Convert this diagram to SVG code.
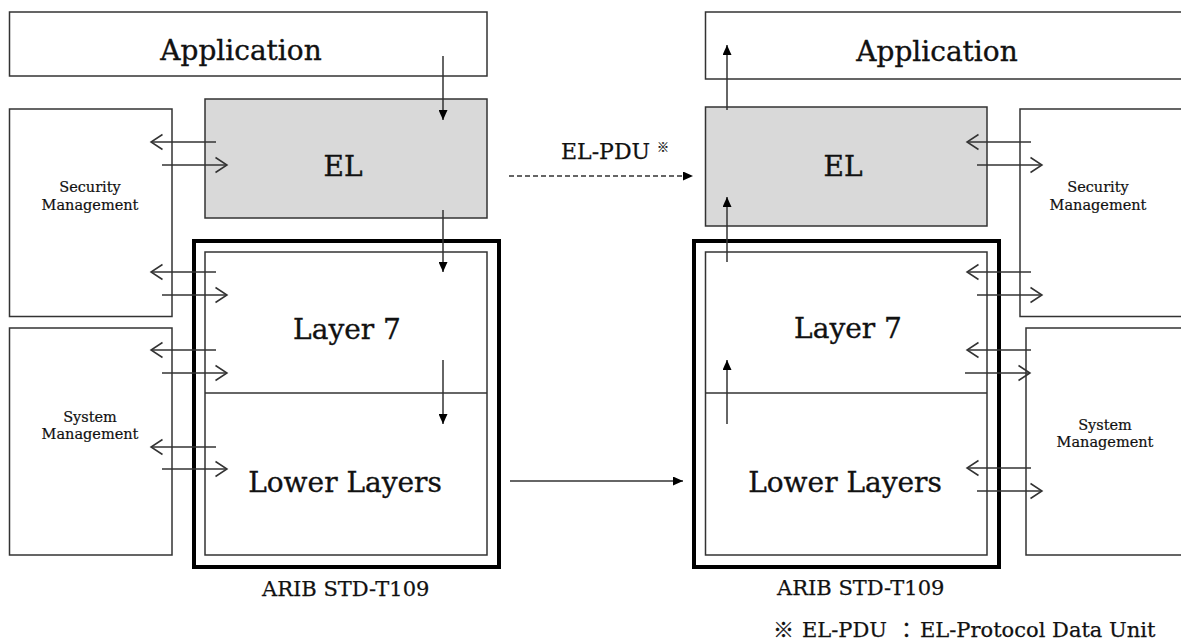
<svg xmlns="http://www.w3.org/2000/svg" width="1181" height="643" viewBox="0 0 1181 643">
  <style>
    .box { fill: #ffffff; stroke: #333333; stroke-width: 1.5; }
    .el { fill: #d9d9d9; stroke: #333333; stroke-width: 1.5; }
    .frame { fill: none; stroke: #000000; stroke-width: 4; }
    .div { stroke: #333333; stroke-width: 1.5; }
    .big { font-family: "DejaVu Serif", "Liberation Serif", serif; font-size: 28px; fill: #111111; stroke: #111111; stroke-width: 0.35; text-anchor: middle; }
    .small { font-family: "DejaVu Serif", "Liberation Serif", serif; font-size: 14.5px; fill: #111111; stroke: #111111; stroke-width: 0.2; text-anchor: middle; }
    .label { font-family: "DejaVu Serif", "Liberation Serif", "Noto Sans CJK JP", serif; fill: #111111; stroke: #111111; stroke-width: 0.25; }
    .flow { stroke: #333333; stroke-width: 1.5; fill: none; marker-end: url(#solid); }
    .io { stroke: #333333; stroke-width: 1.5; fill: none; marker-end: url(#open); }
    .pdu { stroke: #333333; stroke-width: 1.5; fill: none; stroke-dasharray: 5 3; marker-end: url(#solid); }
  </style>
  <defs>
    <marker id="solid" viewBox="0 0 10 9" refX="10" refY="4.5" markerWidth="10" markerHeight="9" markerUnits="userSpaceOnUse" orient="auto">
      <path d="M0,0 L10,4.5 L0,9 Z" fill="#000000"/>
    </marker>
    <marker id="open" viewBox="0 0 14 16" refX="12.5" refY="8" markerWidth="14" markerHeight="16" markerUnits="userSpaceOnUse" orient="auto" overflow="visible">
      <path d="M1,0.5 L12.5,8 L1,15.5" fill="none" stroke="#333333" stroke-width="1.5"/>
    </marker>
  </defs>

  <rect width="1181" height="643" fill="#ffffff"/>

  <!-- sending stack -->
  <g id="app-left">
    <rect class="box" x="9.5" y="12" width="477.5" height="64"/>
    <text class="big" x="241" y="60">Application</text>
  </g>
  <g id="sec-left">
    <rect class="box" x="9.5" y="109" width="162.5" height="207.5"/>
    <text class="small" x="90" y="192">Security</text>
    <text class="small" x="90" y="210">Management</text>
  </g>
  <g id="sys-left">
    <rect class="box" x="9.5" y="328" width="162.5" height="227"/>
    <text class="small" x="90" y="422">System</text>
    <text class="small" x="90" y="439">Management</text>
  </g>
  <g id="el-left">
    <rect class="el" x="205" y="99" width="282" height="119"/>
    <text class="big" x="343" y="176">EL</text>
  </g>
  <g id="t109-left">
    <rect class="frame" x="194" y="241" width="305" height="326"/>
    <rect class="box" x="205" y="252" width="282" height="303"/>
    <line class="div" x1="205" y1="393" x2="487" y2="393"/>
    <text class="big" x="347" y="339">Layer 7</text>
    <text class="big" x="345" y="492">Lower Layers</text>
    <text class="label" x="262" y="596" font-size="21">ARIB STD-T109</text>
  </g>

  <!-- receiving stack -->
  <g id="app-right">
    <rect class="box" x="705.5" y="12" width="490" height="67"/>
    <text class="big" x="937" y="61">Application</text>
  </g>
  <g id="sec-right">
    <rect class="box" x="1020" y="109" width="175" height="207.5"/>
    <text class="small" x="1098" y="192">Security</text>
    <text class="small" x="1098" y="210">Management</text>
  </g>
  <g id="sys-right">
    <rect class="box" x="1026" y="328" width="170" height="227"/>
    <text class="small" x="1105" y="430">System</text>
    <text class="small" x="1105" y="447">Management</text>
  </g>
  <g id="el-right">
    <rect class="el" x="705.5" y="107" width="281.5" height="119"/>
    <text class="big" x="843" y="176">EL</text>
  </g>
  <g id="t109-right">
    <rect class="frame" x="694" y="241" width="305" height="326"/>
    <rect class="box" x="705.5" y="252" width="281.5" height="303"/>
    <line class="div" x1="705.5" y1="393" x2="987" y2="393"/>
    <text class="big" x="848" y="338">Layer 7</text>
    <text class="big" x="845" y="492">Lower Layers</text>
    <text class="label" x="777" y="595" font-size="21">ARIB STD-T109</text>
  </g>

  <g id="note">
    <text class="label" y="637" font-size="21"><tspan x="773">※</tspan><tspan x="802">EL-PDU</tspan><tspan x="896">：</tspan><tspan x="920">EL-Protocol Data Unit</tspan></text>
  </g>

  <g id="connectors">
    <!-- downward path through the sending stack -->
    <line class="flow" x1="443" y1="56" x2="443" y2="120"/>
    <line class="flow" x1="443" y1="210" x2="443" y2="272"/>
    <line class="flow" x1="443" y1="360" x2="443" y2="424"/>
    <!-- upward path through the receiving stack -->
    <line class="flow" x1="727" y1="424" x2="727" y2="360"/>
    <line class="flow" x1="727" y1="262" x2="727" y2="197"/>
    <line class="flow" x1="727" y1="110" x2="727" y2="45"/>
    <!-- transmission between stacks -->
    <line class="flow" x1="510" y1="481" x2="683" y2="481"/>
    <line class="pdu" x1="509" y1="176" x2="693" y2="176"/>
    <text class="label" x="561" y="159" font-size="22">EL-PDU</text>
    <text class="label" x="657" y="152" font-size="12">※</text>

    <!-- management interfaces, sending side -->
    <line class="io" x1="216" y1="142" x2="151" y2="142"/>
    <line class="io" x1="162" y1="165" x2="227" y2="165"/>
    <line class="io" x1="216" y1="272" x2="151" y2="272"/>
    <line class="io" x1="162" y1="295" x2="227" y2="295"/>
    <line class="io" x1="216" y1="350" x2="151" y2="350"/>
    <line class="io" x1="162" y1="373" x2="227" y2="373"/>
    <line class="io" x1="216" y1="447" x2="151" y2="447"/>
    <line class="io" x1="162" y1="469" x2="227" y2="469"/>

    <!-- management interfaces, receiving side -->
    <line class="io" x1="1031" y1="142" x2="967" y2="142"/>
    <line class="io" x1="977" y1="165" x2="1042" y2="165"/>
    <line class="io" x1="1031" y1="272" x2="967" y2="272"/>
    <line class="io" x1="977" y1="295" x2="1042" y2="295"/>
    <line class="io" x1="1031" y1="350" x2="967" y2="350"/>
    <line class="io" x1="965" y1="373" x2="1030" y2="373"/>
    <line class="io" x1="1031" y1="468" x2="967" y2="468"/>
    <line class="io" x1="977" y1="491" x2="1042" y2="491"/>
  </g>
</svg>
